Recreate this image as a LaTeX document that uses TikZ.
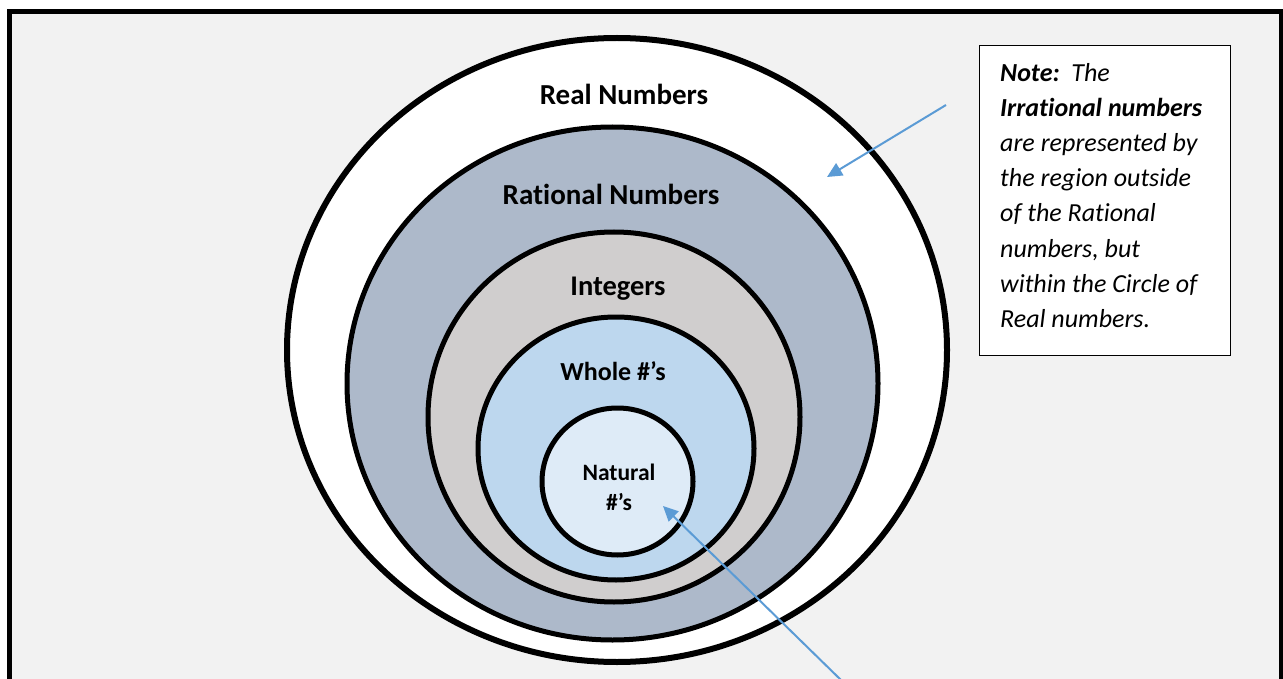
\documentclass[tikz,border=0pt]{standalone}
\usepackage{fontspec}
\setmainfont{Carlito}[Ligatures=NoCommon]
\usetikzlibrary{arrows.meta}
\definecolor{bgGray}{HTML}{F2F2F2}
\definecolor{ratFill}{HTML}{ADB9CA}
\definecolor{intFill}{HTML}{D0CECE}
\definecolor{wholeFill}{HTML}{BDD7EE}
\definecolor{natFill}{HTML}{DEEBF7}
\definecolor{arrowBlue}{HTML}{5B9BD5}
\begin{document}
\begin{tikzpicture}[x=1bp,y=-1bp,
  ring/.style={draw=black,line width=5bp},
  biglabel/.style={anchor=base,inner sep=0pt,font=\fontsize{29bp}{35bp}\selectfont\bfseries},
  notetext/.style={anchor=base west,inner sep=0pt,font=\fontsize{26bp}{31bp}\selectfont\itshape},
  pointer/.style={draw=arrowBlue,line width=2bp,-{Triangle[length=15bp,width=14bp]}}]
\useasboundingbox (0,0) rectangle (1283,679);
\clip (0,0) rectangle (1283,679);
\fill[white] (0,0) rectangle (1283,679);
\draw[line width=5bp,fill=bgGray] (9.5,11.5) rectangle (1281,720);
% nested sets
\draw[ring,line width=6bp,fill=white] (617,350) ellipse [x radius=330,y radius=312];
\draw[ring,fill=ratFill] (612.5,383.5) ellipse [x radius=265.5,y radius=256.5];
\draw[ring,fill=intFill] (614,417) ellipse [x radius=186,y radius=185];
\draw[ring,fill=wholeFill] (616,448.5) ellipse [x radius=138,y radius=131.5];
\draw[ring,fill=natFill] (617.5,481.5) ellipse [x radius=75.5,y radius=73.5];
% labels
\node[biglabel] (real) at (624,105) {Real Numbers};
\node[biglabel] (rational) at (611,205) {Rational Numbers};
\node[biglabel,font=\fontsize{28.5bp}{34bp}\selectfont\bfseries] (integers) at (618,295) {Integers};
\node[biglabel,font=\fontsize{26bp}{31bp}\selectfont\bfseries] (whole) at (613,380) {Whole \#’s};
\node[biglabel,font=\fontsize{23.5bp}{28bp}\selectfont\bfseries] (natural) at (619,480) {Natural};
\node[biglabel,font=\fontsize{23.5bp}{28bp}\selectfont\bfseries] (naturalb) at (619,510) {\#’s};
% note box
\node[draw=black,line width=1bp,fill=white,minimum width=251bp,minimum height=310bp,anchor=north west,inner sep=0pt] (notebox) at (979,45) {};
\node[notetext] (n1) at (1000,82) {\textbf{Note:}\ \ The};
\node[notetext] (n2) at (1000,117) {\textbf{Irrational numbers}};
\node[notetext] (n3) at (1000,152) {are represented by};
\node[notetext] (n4) at (1000,187) {the region outside};
\node[notetext] (n5) at (1000,222) {of the Rational};
\node[notetext] (n6) at (1000,257) {numbers, but};
\node[notetext] (n7) at (1000,292) {within the Circle of};
\node[notetext] (n8) at (1000,327) {Real numbers.};
% arrows
\coordinate (irrTail) at (946,105);
\coordinate (irrTip) at (827,177);
\draw[pointer] (irrTail) -- (irrTip);
\coordinate (natTail) at (842,681);
\coordinate (natTip) at (663,506);
\draw[pointer] (natTail) -- (natTip);
\end{tikzpicture}
\end{document}
